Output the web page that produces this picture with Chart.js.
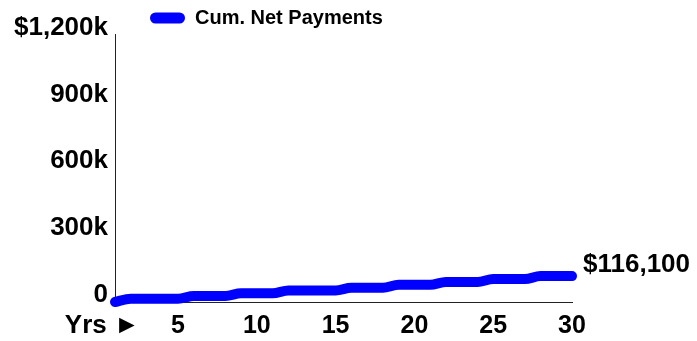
<!DOCTYPE html>
<html>
<head>
<meta charset="utf-8">
<script src="https://cdn.jsdelivr.net/npm/chart.js@4/dist/chart.umd.min.js"></script>
<style>
  html, body { margin: 0; padding: 0; background: #fff; }
  #wrap { width: 697px; height: 341px; position: relative; }
</style>
</head>
<body>
<div id="wrap"><canvas id="payChart"></canvas></div>
<script>
// values (thousands of dollars)
const years = [1, 2, 3, 4, 5, 6, 7, 8, 9, 10, 11, 12, 13, 14, 15, 16, 17, 18, 19, 20, 21, 22, 23, 24, 25, 26, 27, 28, 29, 30];
const cumNetPayments = [0, 15, 15, 15, 15, 27, 27, 27, 39, 39, 39, 52, 52, 52, 52, 64, 64, 64, 77, 77, 77, 90, 90, 90, 103, 103, 103, 116.1, 116.1, 116.1];
const yTickValues = [0, 300, 600, 900, 1200];
const yTickLabels = ['0', '300k', '600k', '900k', '$1,200k'];
const xTickValues = [5, 10, 15, 20, 25, 30];
const xAxisLabel = 'Yrs \u25BA';

const fontFam = 'Arial, "Liberation Sans", Helvetica, sans-serif';

const extras = {
    id: 'extras',
    afterLayout(chart) {
        // legend sits right of the axis and a little lower
        const lg = chart.legend;
        lg.left = 150 - lg.options.labels.padding;
        lg.top += 3.5;
        lg.bottom += 3.5;
    },
    afterDraw(chart) {
        const ctx = chart.ctx;
        const xs = chart.scales.x;
        ctx.save();
        ctx.fillStyle = '#000';
        ctx.font = 'bold 26px ' + fontFam;
        ctx.textBaseline = 'middle';
        ctx.textAlign = 'center';
        ctx.fillText(xAxisLabel, xs.getPixelForValue(0) + 3, xs.top + 24);

        // end value label
        const pts = chart.getDatasetMeta(0).data;
        const last = pts[pts.length - 1];
        const v = cumNetPayments[cumNetPayments.length - 1];
        ctx.textAlign = 'left';
        ctx.fillText('$' + Math.round(v * 1000).toLocaleString('en-US'), last.x + 11, last.y - 11);
        ctx.restore();
    }
};

new Chart(document.getElementById('payChart'), {
    type: 'line',
    data: {
        labels: years,
        datasets: [{
            label: 'Cum. Net Payments',
            data: years.map((y, i) => ({ x: y, y: cumNetPayments[i] })),
            borderColor: '#0000ff',
            backgroundColor: '#0000ff',
            borderWidth: 10,
            borderCapStyle: 'round',
            borderJoinStyle: 'round',
            cubicInterpolationMode: 'monotone',
            pointRadius: 0,
            clip: false
        }]
    },
    options: {
        responsive: true,
        maintainAspectRatio: false,
        animation: false,
        layout: { padding: { left: 0, right: 125, top: 0, bottom: 0 } },
        plugins: {
            tooltip: { enabled: false },
            legend: {
                position: 'top',
                align: 'start',
                labels: {
                    color: '#000',
                    font: { family: fontFam, size: 20, weight: 'bold' },
                    boxWidth: 35,
                    boxHeight: 11,
                    useBorderRadius: true,
                    borderRadius: 5.5,
                    padding: 4.5,
                    generateLabels: c => Chart.defaults.plugins.legend.labels.generateLabels(c)
                        .map(l => Object.assign(l, { lineWidth: 0, fillStyle: '#0000ff' }))
                }
            }
        },
        scales: {
            x: {
                type: 'linear',
                min: 1,
                max: 30,
                afterBuildTicks: s => { s.ticks = xTickValues.map(v => ({ value: v })); },
                afterFit: s => { s.height = 39; },
                grid: { display: false, drawTicks: false },
                border: { display: true, color: '#222', width: 1 },
                ticks: {
                    color: '#000',
                    padding: 9,
                    maxRotation: 0,
                    font: { family: fontFam, size: 25, weight: 'bold' }
                }
            },
            y: {
                min: 0,
                max: 1200,
                afterBuildTicks: s => { s.ticks = yTickValues.map(v => ({ value: v })); },
                afterFit: s => { s.width = 115; },
                grid: { display: false, drawTicks: false },
                border: { display: true, color: '#222', width: 1 },
                ticks: {
                    color: '#000',
                    padding: 7,
                    labelOffset: -7,
                    font: { family: fontFam, size: 26, weight: 'bold' },
                    callback: v => yTickLabels[yTickValues.indexOf(v)]
                }
            }
        }
    },
    plugins: [extras]
});
</script>
</body>
</html>
